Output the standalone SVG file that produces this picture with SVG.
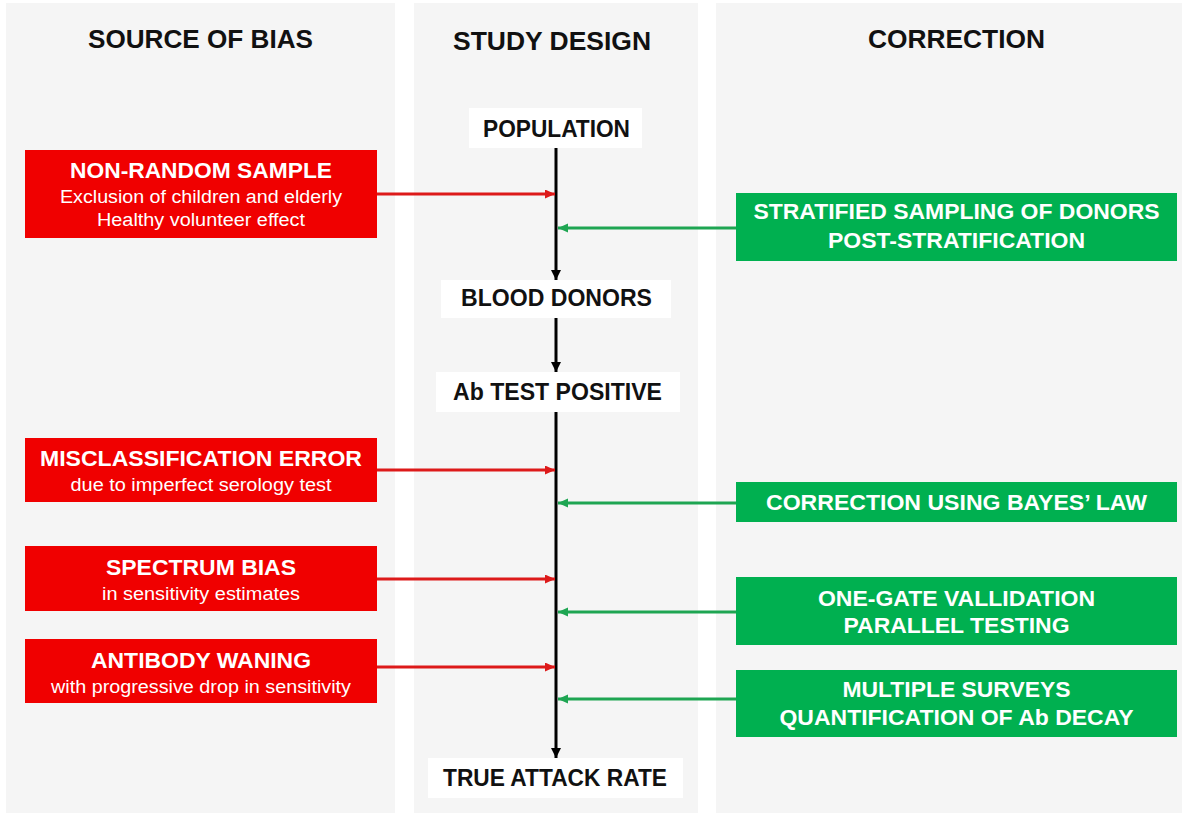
<svg xmlns="http://www.w3.org/2000/svg" width="1182" height="814" viewBox="0 0 1182 814">
<defs>
<style>
.panel{fill:#f5f5f5}
.hdr{font-family:"Liberation Sans",Arial,sans-serif;font-weight:bold;font-size:26px;fill:#111;text-anchor:middle}
.node{fill:#ffffff}
.ntxt{font-family:"Liberation Sans",Arial,sans-serif;font-weight:bold;font-size:23px;fill:#111;text-anchor:middle}
.red{fill:#f00000}
.green{fill:#00b050}
.t1{font-family:"Liberation Sans",Arial,sans-serif;font-weight:bold;font-size:22px;fill:#fff;text-anchor:middle}
.t2{font-family:"Liberation Sans",Arial,sans-serif;font-size:18px;fill:#fff;text-anchor:middle}
.gt{font-family:"Liberation Sans",Arial,sans-serif;font-weight:bold;font-size:22px;fill:#fff;text-anchor:middle}
.blk{stroke:#000;stroke-width:3;fill:none}
.ra{stroke:#dd1a1a;stroke-width:3;fill:none}
.ga{stroke:#1ea552;stroke-width:3;fill:none}
</style>
<marker id="mb" markerUnits="userSpaceOnUse" markerWidth="12" markerHeight="12" refX="10" refY="5" orient="auto"><path d="M0,0 L10,5 L0,10 Z" fill="#000"/></marker>
<marker id="mr" markerUnits="userSpaceOnUse" markerWidth="12" markerHeight="12" refX="10" refY="4.5" orient="auto"><path d="M0,0 L10,4.5 L0,9 Z" fill="#dd1a1a"/></marker>
<marker id="mg" markerUnits="userSpaceOnUse" markerWidth="12" markerHeight="12" refX="10" refY="4.5" orient="auto"><path d="M0,0 L10,4.5 L0,9 Z" fill="#1ea552"/></marker>
</defs>
<rect width="1182" height="814" fill="#ffffff"/>
<g id="panels">
<rect class="panel" x="6" y="3" width="389" height="810"/>
<rect class="panel" x="414" y="3" width="284" height="810"/>
<rect class="panel" x="716" y="3" width="466" height="810"/>
</g>
<g id="headers">
<text class="hdr" x="200.5" y="48" textLength="225" lengthAdjust="spacingAndGlyphs">SOURCE OF BIAS</text>
<text class="hdr" x="552" y="50" textLength="198" lengthAdjust="spacingAndGlyphs">STUDY DESIGN</text>
<text class="hdr" x="956.5" y="48" textLength="177" lengthAdjust="spacingAndGlyphs">CORRECTION</text>
</g>
<g id="connectors">
<line class="blk" x1="556" y1="148" x2="556" y2="280" marker-end="url(#mb)"/>
<line class="blk" x1="556" y1="318" x2="556" y2="372" marker-end="url(#mb)"/>
<line class="blk" x1="556" y1="412" x2="556" y2="758" marker-end="url(#mb)"/>
<line class="ra" x1="377" y1="194" x2="555" y2="194" marker-end="url(#mr)"/>
<line class="ra" x1="377" y1="470" x2="555" y2="470" marker-end="url(#mr)"/>
<line class="ra" x1="377" y1="579" x2="555" y2="579" marker-end="url(#mr)"/>
<line class="ra" x1="377" y1="667" x2="555" y2="667" marker-end="url(#mr)"/>
<line class="ga" x1="736" y1="228" x2="558" y2="228" marker-end="url(#mg)"/>
<line class="ga" x1="736" y1="503" x2="558" y2="503" marker-end="url(#mg)"/>
<line class="ga" x1="736" y1="612" x2="558" y2="612" marker-end="url(#mg)"/>
<line class="ga" x1="736" y1="699" x2="558" y2="699" marker-end="url(#mg)"/>
</g>
<g id="population">
<rect class="node" x="469" y="108" width="173" height="40"/>
<text class="ntxt" x="556.5" y="137" textLength="147" lengthAdjust="spacingAndGlyphs">POPULATION</text>
</g>
<g id="blood-donors">
<rect class="node" x="441" y="280" width="230" height="38"/>
<text class="ntxt" x="556.5" y="306" textLength="191" lengthAdjust="spacingAndGlyphs">BLOOD DONORS</text>
</g>
<g id="ab-test-positive">
<rect class="node" x="436" y="372" width="244" height="40"/>
<text class="ntxt" x="557.5" y="400" textLength="209" lengthAdjust="spacingAndGlyphs">Ab TEST POSITIVE</text>
</g>
<g id="true-attack-rate">
<rect class="node" x="428" y="758" width="255" height="40"/>
<text class="ntxt" x="555" y="786" textLength="224" lengthAdjust="spacingAndGlyphs">TRUE ATTACK RATE</text>
</g>
<g id="non-random-sample">
<rect class="red" x="25" y="150" width="352" height="88"/>
<text class="t1" x="201" y="178" textLength="262" lengthAdjust="spacingAndGlyphs">NON-RANDOM SAMPLE</text>
<text class="t2" x="201" y="203" textLength="282" lengthAdjust="spacingAndGlyphs">Exclusion of children and elderly</text>
<text class="t2" x="201" y="226" textLength="208" lengthAdjust="spacingAndGlyphs">Healthy volunteer effect</text>
</g>
<g id="misclassification-error">
<rect class="red" x="25" y="438" width="352" height="64"/>
<text class="t1" x="201" y="466" textLength="322" lengthAdjust="spacingAndGlyphs">MISCLASSIFICATION ERROR</text>
<text class="t2" x="201" y="491" textLength="261" lengthAdjust="spacingAndGlyphs">due to imperfect serology test</text>
</g>
<g id="spectrum-bias">
<rect class="red" x="25" y="546" width="352" height="65"/>
<text class="t1" x="201" y="575" textLength="190" lengthAdjust="spacingAndGlyphs">SPECTRUM BIAS</text>
<text class="t2" x="201" y="600" textLength="198" lengthAdjust="spacingAndGlyphs">in sensitivity estimates</text>
</g>
<g id="antibody-waning">
<rect class="red" x="25" y="639" width="352" height="64"/>
<text class="t1" x="201" y="668" textLength="220" lengthAdjust="spacingAndGlyphs">ANTIBODY WANING</text>
<text class="t2" x="201" y="693" textLength="300" lengthAdjust="spacingAndGlyphs">with progressive drop in sensitivity</text>
</g>
<g id="stratified-sampling">
<rect class="green" x="736" y="193" width="441" height="68"/>
<text class="gt" x="956.5" y="219" textLength="406" lengthAdjust="spacingAndGlyphs">STRATIFIED SAMPLING OF DONORS</text>
<text class="gt" x="956.5" y="248" textLength="257" lengthAdjust="spacingAndGlyphs">POST-STRATIFICATION</text>
</g>
<g id="bayes-correction">
<rect class="green" x="736" y="482" width="441" height="40"/>
<text class="gt" x="956.5" y="510" textLength="381" lengthAdjust="spacingAndGlyphs">CORRECTION USING BAYES’ LAW</text>
</g>
<g id="one-gate-validation">
<rect class="green" x="736" y="577" width="441" height="68"/>
<text class="gt" x="956.5" y="606" textLength="277" lengthAdjust="spacingAndGlyphs">ONE-GATE VALLIDATION</text>
<text class="gt" x="956.5" y="633" textLength="226" lengthAdjust="spacingAndGlyphs">PARALLEL TESTING</text>
</g>
<g id="multiple-surveys">
<rect class="green" x="736" y="670" width="441" height="67"/>
<text class="gt" x="956.5" y="697" textLength="228" lengthAdjust="spacingAndGlyphs">MULTIPLE SURVEYS</text>
<text class="gt" x="956.5" y="725" textLength="354" lengthAdjust="spacingAndGlyphs">QUANTIFICATION OF Ab DECAY</text>
</g>
</svg>
